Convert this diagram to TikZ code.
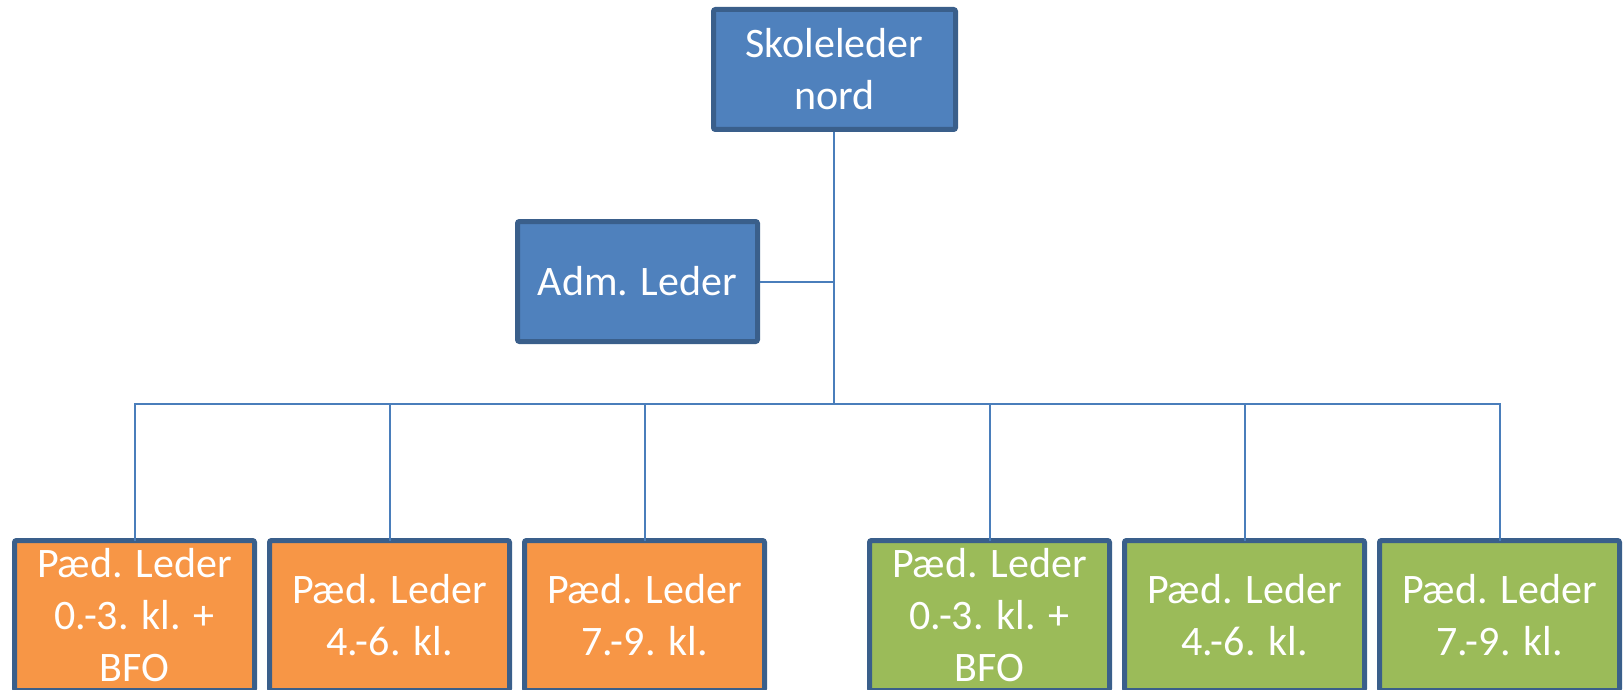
\documentclass[tikz,border=0pt]{standalone}
\usepackage{fontspec}
\setmainfont{Carlito}
\definecolor{boxblue}{HTML}{4F81BD}
\definecolor{boxorange}{HTML}{F79646}
\definecolor{boxgreen}{HTML}{9BBB59}
\definecolor{boxborder}{HTML}{3A5F8B}
\definecolor{linkblue}{HTML}{4A7EBB}
\tikzset{
  orgbox/.style={draw=boxborder, line width=5pt, rounded corners=2pt, inner sep=0pt,
    minimum width=240pt, text=white, align=center,
    font=\fontsize{42}{52}\selectfont},
  topbox/.style={orgbox, fill=boxblue, minimum height=120pt},
  lowbox/.style={orgbox, minimum height=150pt},
  link/.style={draw=linkblue, line width=2pt}
}
\begin{document}
\begin{tikzpicture}[x=1pt, y=-1pt]
\useasboundingbox (0,0) rectangle (1623,690);
\node[topbox, minimum width=242pt] (top) at (834.5,69.5) {Skoleleder\\nord};
\node[topbox] (adm) at (637.5,281.5) {Adm. Leder};
\node[lowbox, fill=boxorange] (o1) at (134.5,615.5) {Pæd. Leder\\0.-3. kl. +\\BFO};
\node[lowbox, fill=boxorange] (o2) at (389.5,615.5) {Pæd. Leder\\4.-6. kl.};
\node[lowbox, fill=boxorange] (o3) at (644.5,615.5) {Pæd. Leder\\7.-9. kl.};
\node[lowbox, fill=boxgreen] (g1) at (989.5,615.5) {Pæd. Leder\\0.-3. kl. +\\BFO};
\node[lowbox, fill=boxgreen] (g2) at (1244.5,615.5) {Pæd. Leder\\4.-6. kl.};
\node[lowbox, fill=boxgreen] (g3) at (1499.5,615.5) {Pæd. Leder\\7.-9. kl.};
\coordinate (bus) at (834,404);
\coordinate (topout) at (834,132);
\coordinate (admjoin) at (834,281.5);
\draw[link] (topout) -- (bus);
\draw[link] (adm.east) -- (admjoin);
\foreach \n in {o1,o2,o3,g1,g2,g3}{
  \draw[link] (bus) -| ([yshift=-2.5pt]\n.north);
}
\end{tikzpicture}
\end{document}
